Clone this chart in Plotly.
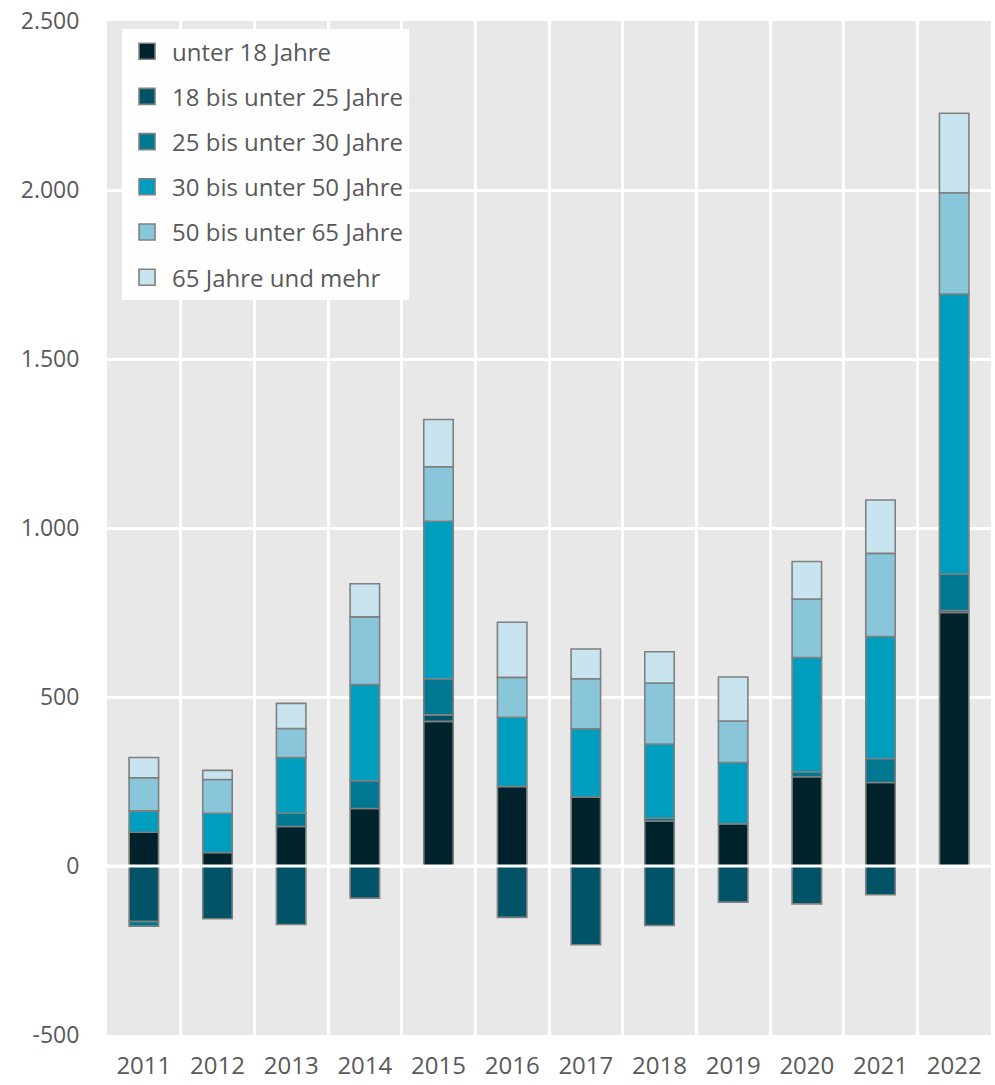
import plotly.graph_objects as go

# Jahre (Kategorien der x-Achse)
years = ["2011", "2012", "2013", "2014", "2015", "2016",
         "2017", "2018", "2019", "2020", "2021", "2022"]

# Werte je Altersgruppe
unter_18 = [100, 40, 117, 170, 428, 235, 204, 133, 125, 264, 247, 750]
von_18_bis_25 = [-164, -156, -173, -95, 19, -152, -233, -176, -107, -112, -85, 6]
von_25_bis_30 = [-14, 0, 39, 82, 107, 0, 0, 9, 0, 15, 71, 108]
von_30_bis_50 = [63, 116, 165, 285, 466, 205, 202, 219, 181, 338, 361, 828]
von_50_bis_65 = [98, 100, 86, 200, 161, 118, 148, 180, 123, 173, 246, 300]
ab_65 = [60, 27, 74, 98, 140, 163, 88, 93, 130, 111, 158, 235]

series_names = ["unter 18 Jahre", "18 bis unter 25 Jahre", "25 bis unter 30 Jahre",
                "30 bis unter 50 Jahre", "50 bis unter 65 Jahre", "65 Jahre und mehr"]
series_values = [unter_18, von_18_bis_25, von_25_bis_30, von_30_bis_50, von_50_bis_65, ab_65]
series_colors = ["#00222B", "#005366", "#007891", "#009EBE", "#89C6DA", "#C8E4EE"]

y_tickvals = [-500, 0, 500, 1000, 1500, 2000, 2500]
y_ticktext = ["-500", "0", "500", "1.000", "1.500", "2.000", "2.500"]

text_color = "#595959"
outline = "#808080"
font_family = "Open Sans, Noto Sans, sans-serif"

fig = go.Figure()
for name, vals, color in zip(series_names, series_values, series_colors):
    fig.add_trace(go.Bar(
        x=years,
        y=vals,
        name=name,
        legendgroup=name,
        showlegend=False,
        width=0.4,
        marker=dict(color=color, line=dict(color=outline, width=1.6)),
    ))

# Legendeneinträge mit quadratischen Symbolen
for name, color in zip(series_names, series_colors):
    fig.add_trace(go.Scatter(
        x=[None], y=[None],
        mode="markers",
        name=name,
        legendgroup=name,
        marker=dict(symbol="square", size=16, color=color,
                    line=dict(color=outline, width=1.6)),
    ))

# Nulllinie über den Balken
fig.add_shape(type="line", xref="paper", yref="y", x0=0, x1=1, y0=0, y1=0,
              line=dict(color="white", width=3), layer="above")

fig.update_layout(
    barmode="relative",
    width=995,
    height=1085,
    margin=dict(l=107, r=4, t=19, b=49),
    paper_bgcolor="white",
    plot_bgcolor="#E8E8E8",
    font=dict(family=font_family, size=23, color=text_color),
    showlegend=True,
    legend=dict(
        x=0.017, y=0.992, xanchor="left", yanchor="top",
        bgcolor="rgba(255,255,255,0.92)",
        borderwidth=0,
        font=dict(size=24, color=text_color),
        tracegroupgap=11,
        traceorder="grouped",
        itemwidth=40,
    ),
    xaxis=dict(
        type="category",
        tickson="boundaries",
        showgrid=True,
        gridcolor="white",
        gridwidth=3,
        ticks="",
        ticklabelstandoff=14,
        showline=False,
        zeroline=False,
        tickfont=dict(size=24, color=text_color),
    ),
    yaxis=dict(
        range=[-500, 2500],
        tickvals=y_tickvals,
        ticktext=y_ticktext,
        showgrid=True,
        gridcolor="white",
        gridwidth=3,
        zeroline=False,
        showline=False,
        ticks="outside",
        ticklen=22,
        tickcolor="rgba(0,0,0,0)",
        tickfont=dict(size=23, color=text_color),
    ),
)

fig.write_html("out.html")
